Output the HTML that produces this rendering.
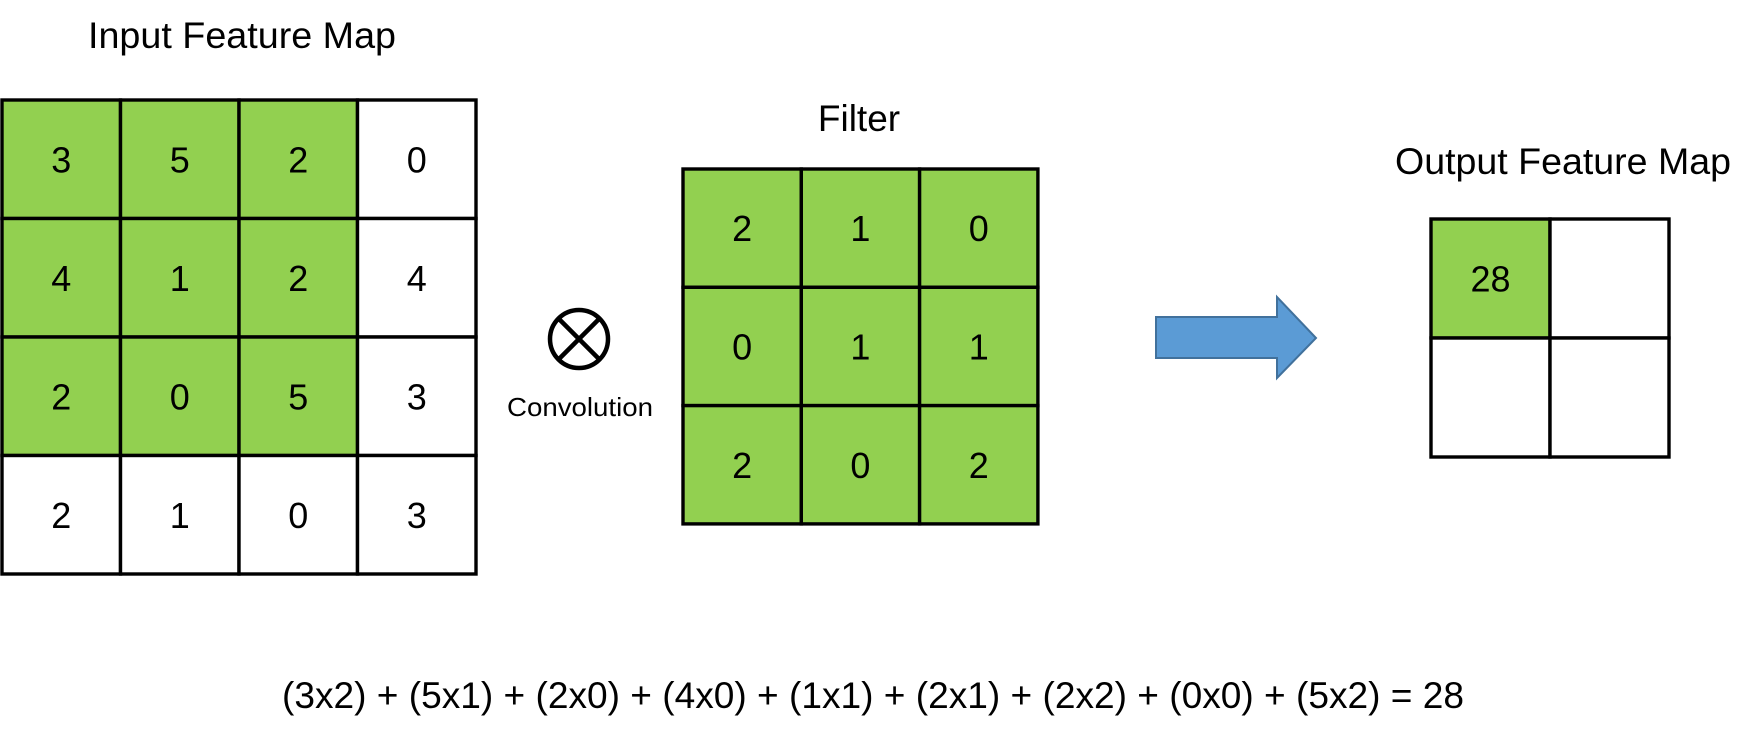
<!DOCTYPE html>
<html><head><meta charset="utf-8"><style>
html,body{margin:0;padding:0;background:#fff;}
svg{display:block;}
text{font-family:"Liberation Sans",sans-serif;fill:#000;}
</style></head><body>
<svg width="1756" height="736" viewBox="0 0 1756 736">
<g id="input"></g>
<g id="filter"></g>
<g id="output"></g>
<text x="242" y="48" font-size="37" text-anchor="middle" textLength="308" lengthAdjust="spacingAndGlyphs">Input Feature Map</text>
<text x="859" y="131" font-size="37" text-anchor="middle">Filter</text>
<text x="1563" y="174" font-size="37" text-anchor="middle" textLength="336" lengthAdjust="spacingAndGlyphs">Output Feature Map</text>
<g>
<circle cx="579" cy="339" r="29" fill="none" stroke="#000" stroke-width="4.5"/>
<line x1="558.5" y1="318.5" x2="599.5" y2="359.5" stroke="#000" stroke-width="4.5"/>
<line x1="599.5" y1="318.5" x2="558.5" y2="359.5" stroke="#000" stroke-width="4.5"/>
</g>
<text x="580" y="416" font-size="26" text-anchor="middle" textLength="146" lengthAdjust="spacingAndGlyphs">Convolution</text>
<polygon points="1156,317 1277,317 1277,297 1316,338 1277,378 1277,358 1156,358" fill="#5B9BD5" stroke="#41719C" stroke-width="2"/>
<text x="873" y="708" font-size="37" text-anchor="middle" textLength="1182" lengthAdjust="spacingAndGlyphs">(3x2) + (5x1) + (2x0) + (4x0) + (1x1) + (2x1) + (2x2) + (0x0) + (5x2) = 28</text>
</svg>
<script>
const inputValues=[[3,5,2,0],[4,1,2,4],[2,0,5,3],[2,1,0,3]];
const filterValues=[[2,1,0],[0,1,1],[2,0,2]];
const outputValues=[[28,""],["",""]];
const NS="http://www.w3.org/2000/svg";
function grid(id,vals,x0,y0,cs,green){
  const g=document.getElementById(id);
  vals.forEach((row,r)=>row.forEach((v,c)=>{
    const rect=document.createElementNS(NS,'rect');
    rect.setAttribute('x',x0+c*cs);rect.setAttribute('y',y0+r*cs);
    rect.setAttribute('width',cs);rect.setAttribute('height',cs);
    rect.setAttribute('fill',green(r,c)?'#92D050':'#fff');
    rect.setAttribute('stroke','#000');rect.setAttribute('stroke-width','3.4');
    
    
    g.appendChild(rect);
    const t=document.createElementNS(NS,'text');
    t.setAttribute('x',x0+c*cs+cs/2);t.setAttribute('y',y0+r*cs+cs/2+13);
    t.setAttribute('font-size','36');t.setAttribute('text-anchor','middle');
    t.textContent=v;
    
    
    g.appendChild(t);
  }));
}
grid('input',inputValues,2,100,118.5,(r,c)=>r<3&&c<3);
grid('filter',filterValues,683,169,118.3,()=>true);
grid('output',outputValues,1431,219,119,(r,c)=>r==0&&c==0);
</script>
</body></html>
